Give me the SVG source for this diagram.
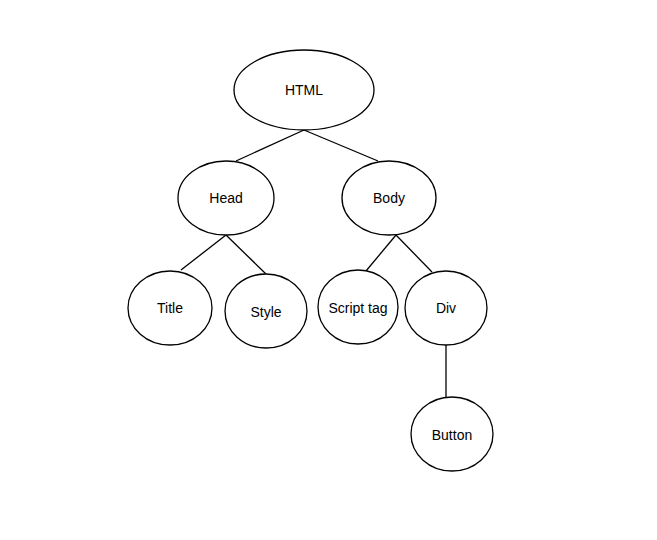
<svg xmlns="http://www.w3.org/2000/svg" width="657" height="540" viewBox="0 0 657 540">
<style>
ellipse{fill:#fff;stroke:#000;stroke-width:1.3}
line{stroke:#000;stroke-width:1.3}
text{font-family:"Liberation Sans",Arial,sans-serif;font-size:14px;text-anchor:middle;dominant-baseline:central;fill:#000}
</style>
<rect width="657" height="540" fill="#fff"/>
<g id="connectors">
<line x1="304" y1="130" x2="236" y2="161"/>
<line x1="304" y1="130" x2="378" y2="161"/>
<line x1="226" y1="235" x2="181" y2="270"/>
<line x1="226" y1="235" x2="266" y2="274"/>
<line x1="396" y1="235" x2="366" y2="271"/>
<line x1="396" y1="235" x2="432" y2="272"/>
<line x1="446" y1="345" x2="446" y2="397"/>
</g>
<g id="html"><ellipse cx="304" cy="90" rx="70" ry="40"/><text x="304" y="90">HTML</text></g>
<g id="head"><ellipse cx="226" cy="198" rx="48" ry="37"/><text x="226" y="198">Head</text></g>
<g id="body"><ellipse cx="389" cy="198" rx="47" ry="37"/><text x="389" y="198">Body</text></g>
<g id="title"><ellipse cx="170" cy="308" rx="42" ry="37"/><text x="170" y="308">Title</text></g>
<g id="style"><ellipse cx="266" cy="311" rx="41" ry="37"/><text x="266" y="312">Style</text></g>
<g id="script"><ellipse cx="358" cy="307" rx="40" ry="37"/><text x="358" y="308">Script tag</text></g>
<g id="div"><ellipse cx="446" cy="308" rx="41" ry="37"/><text x="446" y="308">Div</text></g>
<g id="button"><ellipse cx="452" cy="434" rx="41" ry="37"/><text x="452" y="435">Button</text></g>
</svg>
